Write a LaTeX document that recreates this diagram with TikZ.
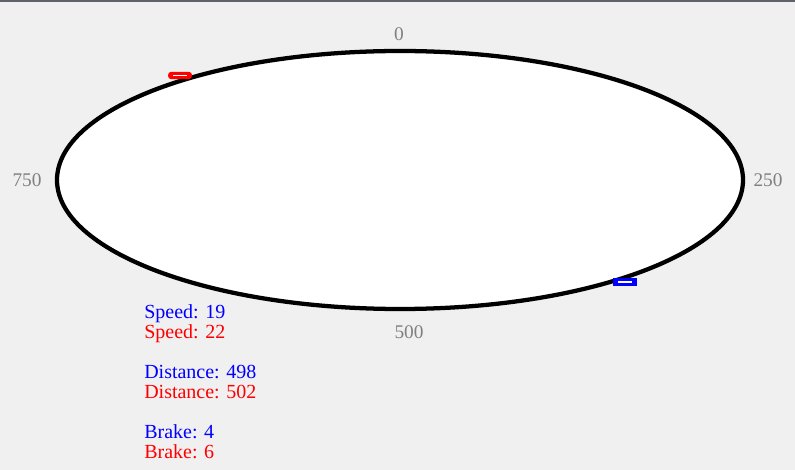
\documentclass[tikz,border=0pt]{standalone}
\usepackage{fontspec}
\setmainfont{Liberation Serif}
\usetikzlibrary{positioning}
\definecolor{trackbg}{HTML}{F0F0F0}
\definecolor{trackgrey}{HTML}{808080}
\definecolor{framegrey}{HTML}{5F6368}
\definecolor{carblue}{HTML}{0000FF}
\definecolor{carred}{HTML}{FF0000}
\tikzset{
  mark lbl/.style={font=\fontsize{14.5}{14.5}\selectfont, text=trackgrey, inner sep=0pt, anchor=base},
  stat/.style={font=\fontsize{15}{15}\selectfont, inner sep=0pt, anchor=base west},
  statb/.style={stat, text=carblue},
  statr/.style={stat, text=carred},
  car/.style={rectangle, minimum width=18pt, minimum height=5.6pt, inner sep=0pt},
  carb/.style={car, fill=carblue},
  carr/.style={car, fill=carred, rounded corners=2.5pt},
  stripe/.style={draw=white, line width=1.2pt},
}

\begin{document}
\begin{tikzpicture}[x=0.75pt,y=-0.75pt]
      % canvas, 795 x 470 px
      \fill[trackbg] (0,0) rectangle (795,470);
      \useasboundingbox (0,0) rectangle (795,470);
      \draw[framegrey, line width=1.5pt] (0,0.8) -- (795,0.8);
      % track
      \draw[black, line width=3.2pt, fill=white] (400,180) ellipse [x radius=343, y radius=129];
      \node[mark lbl] (m0) at (399,41) {0};
      \node[mark lbl] (m250) at (768,187) {250};
      \node[mark lbl] (m500) at (409,338) {500};
      \node[mark lbl] (m750) at (27,187) {750};
      % cars
      \node[carr] (redcar) at (180,75.5) {};
      \draw[stripe] ([xshift=-5.3pt]redcar.center) -- ([xshift=5.3pt]redcar.center);
      \node[carb] (bluecar) at (625,282) {};
      \draw[stripe] ([xshift=-5.3pt]bluecar.center) -- ([xshift=5.3pt]bluecar.center);
      % readout
      \node[statb] (speedb) at (144,318) {Speed: 19};
      \node[statr] (speedr) at (144,338) {Speed: 22};
      \node[statb] (distb) at (144,378) {Distance: 498};
      \node[statr] (distr) at (144,398) {Distance: 502};
      \node[statb] (brakeb) at (144,438) {Brake: 4};
      \node[statr] (braker) at (144,458) {Brake: 6};
    \end{tikzpicture}
\end{document}
